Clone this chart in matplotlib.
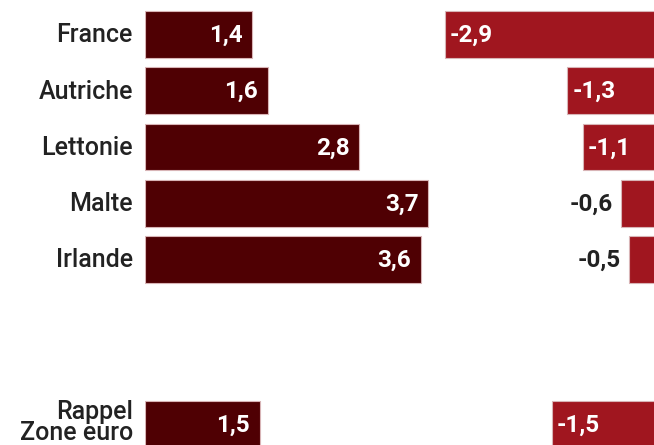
import matplotlib.pyplot as plt

# données
pays = ['France', 'Autriche', 'Lettonie', 'Malte', 'Irlande', 'Rappel\nZone euro']
positions = [0, 1, 2, 3, 4, 6.93]
croissance = [1.4, 1.6, 2.8, 3.7, 3.6, 1.5]
solde = [-2.9, -1.3, -1.1, -0.6, -0.5, -1.5]

sombre = '#4f0003'
rouge = '#a0161f'
bord = '#d8b4b6'
texte = '#222222'

plt.rcParams['font.family'] = ['Roboto', 'DejaVu Sans']

W, H = 654, 445
fig = plt.figure(figsize=(W / 100, H / 100), dpi=100)

# échelle commune (px par unité) et position verticale
px_x = 76.6
px_y = 56.25
y_haut = -34.5 / px_y
y_bas = y_haut + H / px_y

# panneau gauche
x0_g = 145
xmax_g = 3.8
axg = fig.add_axes([x0_g / W, 0, xmax_g * px_x / W, 1])
axg.set_xlim(0, xmax_g)
axg.set_ylim(y_bas, y_haut)
axg.axis('off')
axg.barh(positions, croissance, height=0.835, color=sombre, edgecolor=bord, linewidth=0.8)

for p, v, y in zip(pays, croissance, positions):
    dy = 2 if '\n' in p else -1
    axg.annotate(p, xy=(0, y), xytext=(-12, dy), textcoords='offset pixels',
                 ha='right', va='center', fontsize=18, fontweight='medium', color=texte,
                 linespacing=0.85, annotation_clip=False)
    axg.annotate(f'{v:.1f}'.replace('.', ','), xy=(v, y), xytext=(-10, -1),
                 textcoords='offset pixels', ha='right', va='center',
                 fontsize=17.5, fontweight='bold', color='white')

# panneau droit (le zéro est hors image, à droite)
x0_d = 667
xmin_d = -3.0
axd = fig.add_axes([(x0_d + xmin_d * px_x) / W, 0, -xmin_d * px_x / W, 1])
axd.set_xlim(xmin_d, 0)
axd.set_ylim(y_bas, y_haut)
axd.axis('off')
axd.barh(positions, solde, height=0.835, color=rouge, edgecolor=bord, linewidth=0.8)

for v, y in zip(solde, positions):
    lab = f'{v:.1f}'.replace('.', ',')
    if v <= -1:
        axd.annotate(lab, xy=(v, y), xytext=(5, -1), textcoords='offset pixels',
                     ha='left', va='center', fontsize=17.5, fontweight='bold', color='white')
    else:
        axd.annotate(lab, xy=(v, y), xytext=(-8, -1), textcoords='offset pixels',
                     ha='right', va='center', fontsize=17.5, fontweight='bold', color=texte)

fig.savefig('out.png', dpi=100)
